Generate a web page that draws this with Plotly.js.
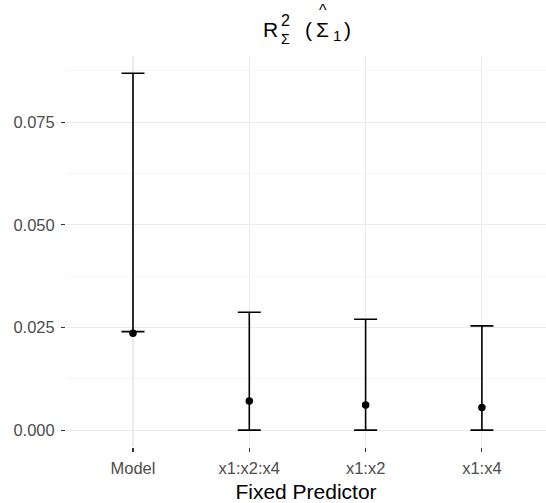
<!DOCTYPE html>
<html>
<head>
<meta charset="utf-8">
<script src="https://cdn.plot.ly/plotly-3.0.1.min.js"></script>
<style>html,body{margin:0;padding:0;background:#fff;overflow:hidden;}</style>
</head>
<body>
<div id="chart" style="width:546px;height:503px;"></div>
<script>
const categories = ["Model", "x1:x2:x4", "x1:x2", "x1:x4"];
const estimate = [0.0236, 0.0071, 0.0061, 0.0055];
const lower = [0.0240, 0.0000, 0.0000, 0.0000];
const upper = [0.0869, 0.0287, 0.0270, 0.0254];
const yTicks = [0, 0.025, 0.05, 0.075];
const yTickText = ["0.000", "0.025", "0.050", "0.075"];

const plusErr = upper.map((u, i) => u - estimate[i]);
const minusErr = lower.map((l, i) => estimate[i] - l);

const trace = {
  type: "scatter",
  mode: "markers",
  x: categories,
  y: estimate,
  marker: {color: "#000", size: 7.5},
  error_y: {
    type: "data", symmetric: false,
    array: plusErr, arrayminus: minusErr,
    color: "#000", thickness: 1.6, width: 11.5
  },
  hoverinfo: "skip",
  showlegend: false
};

const L = 66, R = 546, T = 56, B = 447;
function px(x) { return (x - L) / (R - L); }
function py(y) { return (B - y) / (B - T); }
const tfont = "Liberation Sans, Arial, sans-serif";
function ann(text, x, y, size) {
  return {text: text, xref: "paper", yref: "paper", x: px(x), y: py(y),
    xanchor: "center", yanchor: "middle", showarrow: false,
    font: {family: tfont, size: size, color: "#000"}};
}

const layout = {
  width: 546, height: 503,
  margin: {l: L, r: 546 - R, t: T, b: 503 - B, pad: 0},
  paper_bgcolor: "#fff", plot_bgcolor: "#fff",
  font: {family: tfont},
  xaxis: {
    type: "category",
    range: [-0.576, 3.551],
    showgrid: true, gridcolor: "#ebebeb", gridwidth: 1.1,
    zeroline: false, showline: false,
    ticks: "outside", ticklen: 4, tickcolor: "#333", tickwidth: 1.1,
    ticklabelstandoff: 2,
    tickfont: {family: tfont, size: 16.5, color: "#4d4d4d"},
    title: {text: "Fixed Predictor", font: {family: tfont, size: 21, color: "#000"}, standoff: 9}
  },
  yaxis: {
    range: [-0.0041, 0.0911],
    tickvals: yTicks, ticktext: yTickText,
    showgrid: true, gridcolor: "#ebebeb", gridwidth: 1.1,
    minor: {dtick: 0.0125, tick0: 0, showgrid: true, gridcolor: "#f0f0f0", gridwidth: 0.6},
    zeroline: false, showline: false,
    ticks: "outside", ticklen: 4, tickcolor: "#333", tickwidth: 1.1,
    ticklabelstandoff: 3,
    tickfont: {family: tfont, size: 16.5, color: "#4d4d4d"}
  },
  annotations: [
    ann("R", 270, 30, 21),
    ann("2", 285, 21, 16),
    ann("Σ", 285, 38.5, 14),
    ann("(", 308, 29, 21),
    ann("Σ", 322, 30, 21),
    ann("^", 322.5, 11, 16),
    ann("1", 336.5, 35.5, 15),
    ann(")", 347, 29, 21)
  ]
};

Plotly.newPlot("chart", [trace], layout, {displayModeBar: false, staticPlot: true});
</script>
</body>
</html>
